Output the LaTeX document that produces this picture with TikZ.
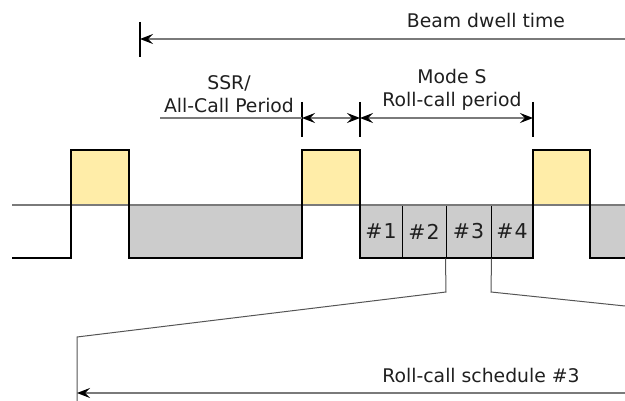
\documentclass[tikz,border=0pt]{standalone}
\usepackage{fontspec}
\setmainfont{DejaVu Sans}
\usetikzlibrary{arrows.meta}
\definecolor{pulsefill}{HTML}{FFEDA8}
\definecolor{slotfill}{HTML}{CCCCCC}
\definecolor{dimgray}{HTML}{7A7A7A}
\definecolor{zoomgray}{HTML}{555555}

\begin{document}
\begin{tikzpicture}[x=1pt,y=-1pt,
  wave/.style={line width=2.8pt, black, line join=miter},
  refline/.style={line width=1.2pt, dimgray},
  dimline/.style={line width=1.3pt, dimgray},
  dimtick/.style={line width=1.4pt, black},
  zoomline/.style={line width=1pt, zoomgray},
  headL/.style={{Stealth[length=13pt,width=10pt,inset=5pt,black]}-},
  headLR/.style={{Stealth[length=13pt,width=10pt,inset=5pt,black]}-{Stealth[length=13pt,width=10pt,inset=5pt,black]}},
  txt/.style={font=\fontsize{18.8}{23.8}\selectfont, inner sep=0pt, align=center, text=black!88},
  slotbox/.style={draw=black, line width=1pt, fill=slotfill, minimum height=53pt,
    inner sep=0pt, font=\fontsize{20.5}{24}\selectfont, text=black!88}
]
\useasboundingbox (0,0) rectangle (625,401);

% reply pulses (above the reference level) and gaps (below it)
\fill[pulsefill] (71,150) rectangle (129,205);
\fill[pulsefill] (302,150) rectangle (360,205);
\fill[pulsefill] (533,150) rectangle (590,205);
\fill[slotfill] (129,205) rectangle (302,258);
\fill[slotfill] (590,205) rectangle (625,258);

% roll-call slots
\node[slotbox, minimum width=42pt] (s1) at (381,231.5) {\raisebox{-2.5pt}{\#\kern1pt1}};
\node[slotbox, minimum width=44pt] (s2) at (424,231.5) {\raisebox{-2.5pt}{\#\kern1pt2}};
\node[slotbox, minimum width=45pt] (s3) at (468.5,231.5) {\raisebox{-2.5pt}{\#\kern1pt3}};
\node[slotbox, minimum width=42pt] (s4) at (512,231.5) {\raisebox{-2.5pt}{\#\kern1pt4}};

% reference level
\coordinate (r0) at (12,205);
\coordinate (r1) at (625,205);
\draw[refline] (r0) -- (r1);

% interrogation waveform
\coordinate (w0) at (12,258);
\draw[wave] (w0) -| (71,150) -| (129,258) -| (302,150) -| (360,258)
  -| (533,150) -| (590,258) -- (625,258);

% beam dwell time
\coordinate (bt0) at (140,22);
\coordinate (bt1) at (140,57);
\coordinate (ba) at (140,39);
\coordinate (be) at (625,39);
\draw[dimtick] (bt0) -- (bt1);
\draw[dimline, headL] (ba) -- (be);
\node[txt, anchor=base] (beam) at (486,28) {Beam dwell time};

% period ticks
\foreach \n/\x in {a/302, b/360, c/533} {
  \coordinate (\n0) at (\x,102);
  \coordinate (\n1) at (\x,137);
  \coordinate (\n m) at (\x,118);
  \draw[dimtick] (\n0) -- (\n1);
}
\coordinate (ssrl) at (160,118);
\draw[dimline] (ssrl) -- (am);
\draw[dimline, headLR] (am) -- (bm);
\draw[dimline, headLR] (bm) -- (cm);

% two-line labels, anchored on the baseline of their last line
\node[txt, anchor=base] (ssr) at (229,113) {SSR/\\All-Call Period};
\node[txt, anchor=base] (modes) at (452,107) {Mode S\\Roll-call period};

% expansion of slot #3
\coordinate (zl1) at (446,292);
\coordinate (zl2) at (77,337);
\coordinate (zl3) at (77,401);
\coordinate (zr1) at (491,292);
\coordinate (zr2) at (625,306);
\draw[zoomline] (s3.south west) -- (zl1) -- (zl2) -- (zl3);
\draw[zoomline] (s3.south east) -- (zr1) -- (zr2);

% roll-call schedule
\coordinate (ra) at (77,393);
\coordinate (re) at (625,393);
\draw[dimline, headL] (ra) -- (re);
\node[txt, anchor=base] (sched) at (481,383) {Roll-call schedule \#3};
\end{tikzpicture}
\end{document}
